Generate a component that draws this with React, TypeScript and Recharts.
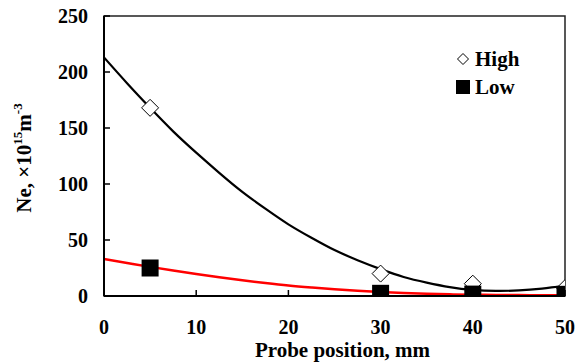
import React from 'react';
import {
  ComposedChart,
  Line,
  Scatter,
  XAxis,
  YAxis,
  ReferenceArea,
  Legend,
} from 'recharts';

// measured probe positions (mm) and densities (x10^15 m^-3)
const probePositions = [5, 30, 40, 50];
const highDensity = [168, 20, 11, 7];
const lowDensity = [25, 2.4, 1.7, 1.5];

// fitted trend curves, sampled every 2.5 mm
const fitPositions = [0, 2.5, 5, 7.5, 10, 12.5, 15, 17.5, 20, 22.5, 25, 27.5, 30, 32.5, 35, 37.5, 40, 42.5, 45, 47.5, 50];
const highFit = [213, 190, 168, 147, 128, 110, 93, 78, 64, 52, 41, 32, 24, 17, 12, 8, 5.5, 4.6, 5, 6.6, 9];
const lowFit = [33, 29.5, 26, 22.7, 19.6, 16.7, 14, 11.6, 9.4, 7.6, 6, 4.7, 3.6, 2.7, 2, 1.5, 1.2, 1, 0.8, 0.7, 0.6];

const xTicks = [0, 10, 20, 30, 40, 50];
const yTicks = [0, 50, 100, 150, 200, 250];

const FONT = 'Liberation Serif, Times New Roman, Times, serif';

const highPoints = probePositions.map((x, i) => ({ x, y: highDensity[i] }));
const lowPoints = probePositions.map((x, i) => ({ x, y: lowDensity[i] }));
const highCurve = fitPositions.map((x, i) => ({ x, y: highFit[i] }));
const lowCurve = fitPositions.map((x, i) => ({ x, y: lowFit[i] }));

const Diamond = ({ cx, cy }: any) => {
  const r = 8.5;
  return (
    <polygon
      points={`${cx},${cy - r} ${cx + r},${cy} ${cx},${cy + r} ${cx - r},${cy}`}
      fill="#fff"
      stroke="#000"
      strokeWidth={1}
    />
  );
};

const Square = ({ cx, cy }: any) => (
  <rect x={cx - 8.5} y={cy - 8.5} width={17} height={17} fill="#000" />
);

const textStyle = { fontFamily: FONT, fontWeight: 'bold' as const };

// ticks point into the plot
const XTick = ({ x, y, payload }: any) => (
  <g>
    <line x1={x} y1={y} x2={x} y2={y - 6} stroke="#000" strokeWidth={1.5} />
    <text x={x} y={y + 38} textAnchor="middle" style={textStyle} fontSize={20} fill="#000">
      {payload.value}
    </text>
  </g>
);

const YTick = ({ x, y, payload }: any) => (
  <g>
    <line x1={x} y1={y} x2={x + 6} y2={y} stroke="#000" strokeWidth={1.5} />
    <text x={x - 16} y={y + 7} textAnchor="end" style={textStyle} fontSize={20} fill="#000">
      {payload.value}
    </text>
  </g>
);

const XTitle = ({ viewBox }: any) => (
  <text
    x={viewBox.x + viewBox.width / 2 + 8}
    y={viewBox.y + 61}
    textAnchor="middle"
    style={textStyle}
    fontSize={21}
    fill="#000"
  >
    Probe position, mm
  </text>
);

const YTitle = ({ viewBox }: any) => {
  const cx = 31;
  const cy = viewBox.y + viewBox.height / 2 + 2;
  return (
    <text
      x={cx}
      y={cy}
      transform={`rotate(-90 ${cx} ${cy})`}
      textAnchor="middle"
      style={textStyle}
      fontSize={21}
      fill="#000"
    >
      Ne, ×10
      <tspan fontSize={13} dy={-9}>15</tspan>
      <tspan dy={9}>m</tspan>
      <tspan fontSize={13} dy={-9}>-3</tspan>
    </text>
  );
};

const renderLegend = () => (
  <div style={{ fontFamily: FONT, fontWeight: 'bold', fontSize: 21, color: '#000', lineHeight: '28px' }}>
    <div style={{ display: 'flex', alignItems: 'center' }}>
      <svg width={16} height={16} style={{ marginRight: 4 }}>
        <polygon points="8,2.5 13.5,8 8,13.5 2.5,8" fill="#fff" stroke="#000" strokeWidth={1} />
      </svg>
      High
    </div>
    <div style={{ display: 'flex', alignItems: 'center' }}>
      <svg width={16} height={16} style={{ marginRight: 4 }}>
        <rect x={1} y={1} width={14} height={14} fill="#000" />
      </svg>
      Low
    </div>
  </div>
);

export default function App() {
  return (
    <div style={{ position: 'absolute', left: 0, top: 0, background: '#fff', fontFamily: FONT }}>
      <ComposedChart
        width={579}
        height={363}
        margin={{ top: 16, right: 14, bottom: 27, left: 44 }}
        style={{ fontFamily: FONT }}
      >
        <XAxis
          dataKey="x"
          type="number"
          domain={[0, 50]}
          ticks={xTicks}
          allowDataOverflow
          height={40}
          tickSize={0}
          tickMargin={0}
          tickLine={false}
          tick={<XTick />}
          axisLine={{ stroke: '#000', strokeWidth: 2 }}
          label={{ content: <XTitle /> }}
        />
        <YAxis
          dataKey="y"
          type="number"
          domain={[0, 250]}
          ticks={yTicks}
          allowDataOverflow
          width={60}
          tickSize={0}
          tickMargin={0}
          tickLine={false}
          tick={<YTick />}
          axisLine={{ stroke: '#000', strokeWidth: 2 }}
          label={{ content: <YTitle /> }}
        />
        <ReferenceArea x1={0} x2={50} y1={0} y2={250} fill="none" stroke="#222" strokeWidth={1.5} />
        <Line
          data={highCurve}
          dataKey="y"
          type="natural"
          stroke="#000"
          strokeWidth={2.2}
          dot={false}
          activeDot={false}
          isAnimationActive={false}
          legendType="none"
        />
        <Line
          data={lowCurve}
          dataKey="y"
          type="natural"
          stroke="#ff0000"
          strokeWidth={2.5}
          dot={false}
          activeDot={false}
          isAnimationActive={false}
          legendType="none"
        />
        <Scatter data={highPoints} dataKey="y" name="High" shape={<Diamond />} isAnimationActive={false} />
        <Scatter data={lowPoints} dataKey="y" name="Low" shape={<Square />} isAnimationActive={false} />
        <Legend
          layout="vertical"
          align="center"
          verticalAlign="middle"
          content={renderLegend}
          wrapperStyle={{ left: 455, top: 45, width: 90 }}
        />
      </ComposedChart>
    </div>
  );
}
